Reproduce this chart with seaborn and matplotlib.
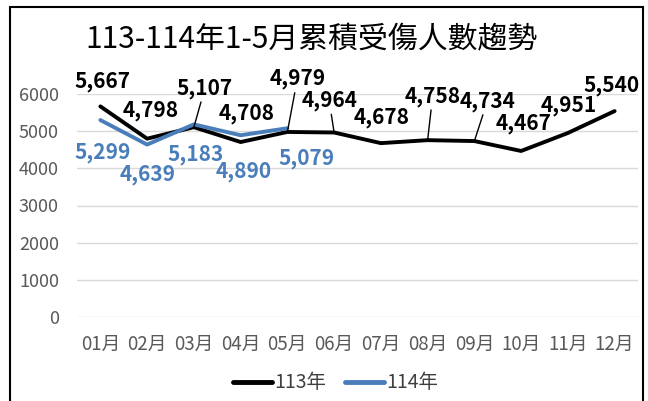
import matplotlib
matplotlib.use('Agg')
import pandas as pd
import matplotlib.pyplot as plt
import seaborn as sns
from matplotlib.patches import Rectangle
from matplotlib.lines import Line2D

sns.set_style('white')
plt.rcParams['font.family'] = ['Noto Sans CJK TC', 'DejaVu Sans']

months = ['01月', '02月', '03月', '04月', '05月', '06月',
          '07月', '08月', '09月', '10月', '11月', '12月']
y113 = [5667, 4798, 5107, 4708, 4979, 4964, 4678, 4758, 4734, 4467, 4951, 5540]
y114 = [5299, 4639, 5183, 4890, 5079]
series_names = ['113年', '114年']

df = pd.concat([
    pd.DataFrame({'月份': months, '人數': y113, '年度': series_names[0]}),
    pd.DataFrame({'月份': months[:len(y114)], '人數': y114, '年度': series_names[1]}),
])

colors = {'113年': 'black', '114年': '#4A7EBB'}

fig, ax = plt.subplots(figsize=(6.48, 4.01), dpi=100)
fig.subplots_adjust(left=77/648, right=638/648, bottom=1-317/401, top=1-94/401)

sns.lineplot(data=df, x='月份', y='人數', hue='年度', palette=colors,
             linewidth=2.8, sort=False, legend=False, ax=ax)

ax.set_xlim(-0.5, 11.5)
ax.set_ylim(0, 6000)
ax.set_yticks(range(0, 6001, 1000))
ax.yaxis.grid(True, color='#d9d9d9', lw=1)
ax.set_axisbelow(True)
for s in ax.spines.values():
    s.set_visible(False)
ax.set_xlabel('')
ax.set_ylabel('')
ax.tick_params(axis='both', colors='#595959', length=0)
ax.tick_params(axis='y', pad=13, labelsize=13)
ax.tick_params(axis='x', pad=12, labelsize=13.5)

# data labels (offsets in pixels, relative to point)
off113 = [(2, 25), (4, 28), (11, 39), (6, 29), (10, 53), (-5, 32),
          (1, 26), (5, 44), (13, 40), (2, 27), (1, 27), (-3, 26)]
lead113 = [False, False, True, False, True, True, False, True, True, False, False, False]
for i, v in enumerate(y113):
    ap = dict(arrowstyle='-', color='black', lw=1, shrinkA=0, shrinkB=0) if lead113[i] else None
    ax.annotate(f'{v:,}', xy=(i, v), xytext=off113[i],
                textcoords='offset pixels', ha='center', va='center',
                fontsize=15, fontweight='bold', color='black',
                arrowprops=ap, annotation_clip=False)

off114 = [(2, -32), (1, -30), (2, -30), (3, -36), (19, -30)]
for i, v in enumerate(y114):
    ax.annotate(f'{v:,}', xy=(i, v), xytext=off114[i], textcoords='offset pixels',
                ha='center', va='center', fontsize=15, fontweight='bold',
                color='#4A7EBB', annotation_clip=False)

fig.text(0.48, 0.9, '113-114年1-5月累積受傷人數趨勢', ha='center', va='center',
         fontsize=21.5, color='black')

handles = [Line2D([0], [0], color=colors[n], lw=3.5) for n in series_names]
leg = fig.legend(handles, series_names, loc='center', bbox_to_anchor=(0.518, 0.045),
                 ncol=2, frameon=False, fontsize=14, handlelength=2.0,
                 handletextpad=0.1, columnspacing=1.0)
for t in leg.get_texts():
    t.set_color('#404040')

fig.patches.append(Rectangle((10/648, -0.01), 633/648, 1-7/401 + 0.01,
                             transform=fig.transFigure,
                             fill=False, edgecolor='black', lw=1.5))

fig.savefig('out.png', dpi=100)
